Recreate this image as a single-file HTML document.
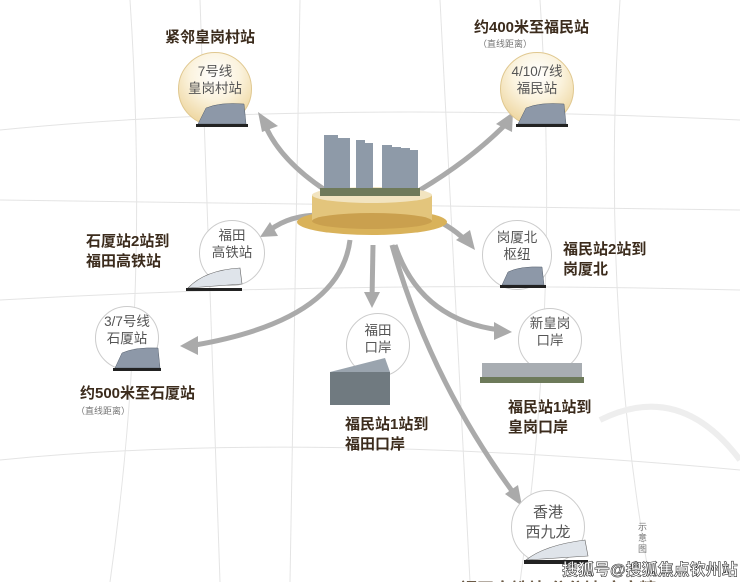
<!DOCTYPE html>
<html style="height:582px;overflow:hidden"><head><meta charset="utf-8"><style>
html,body{margin:0;width:740px;height:582px;overflow:hidden}
body{background:#fff;font-family:"Liberation Sans","Noto Sans CJK SC",sans-serif;position:relative}
.t{position:absolute;color:#3b2b1c;font-weight:bold;font-size:15px;line-height:20px;white-space:nowrap}
.s{position:absolute;color:#777;font-size:9px;white-space:nowrap}
.c{position:absolute;border-radius:50%;border:1.5px solid #ccc;background:#fff;text-align:center;color:#555;font-size:13.5px;line-height:17px;box-sizing:border-box}
.g{background:radial-gradient(circle at 50% 30%,#fff 0%,#fbf3de 40%,#e8c983 100%);border:1px solid #e0c890}
</style></head><body>
<svg width="740" height="582" style="position:absolute;left:0;top:0">
<g stroke="#e4e4e4" fill="none" stroke-width="1">
<path d="M0 130 Q300 100 740 120"/><path d="M0 300 Q350 280 740 290"/><path d="M0 460 Q300 430 740 470"/>
<path d="M130 0 Q150 300 110 582"/><path d="M300 0 L290 582"/><path d="M440 0 L470 582"/><path d="M620 0 Q600 300 650 582"/>
<path d="M0 200 L740 210"/><path d="M200 0 L220 582"/><path d="M540 0 Q560 300 520 582"/>
<path d="M600 420 Q680 380 740 460" stroke-width="6" stroke="#eee"/>
</g>
<g stroke="#aaa" fill="none" stroke-width="5">
<path d="M325 190 Q280 160 265 125"/><path d="M420 190 Q470 160 505 125"/>
<path d="M320 215 Q290 215 270 230"/><path d="M425 215 Q450 225 465 240"/>
<path d="M350 240 Q340 320 195 345"/><path d="M373 245 L372 300"/>
<path d="M395 245 Q420 320 500 330"/><path d="M392 245 Q430 380 515 495"/>
</g>
<g fill="#aaa">
<polygon points="258,112 278,126 262,132"/><polygon points="513,112 496,124 512,132"/>
<polygon points="260,237 270,222 278,236"/><polygon points="475,250 456,240 470,230"/>
<polygon points="180,346 198,336 198,355"/><polygon points="372,308 364,292 380,292"/>
<polygon points="512,332 494,322 494,340"/><polygon points="522,506 505,494 518,485"/>
</g>
<ellipse cx="372" cy="222" rx="75" ry="13" fill="#d9b25a"/>
<rect x="312" y="195" width="120" height="26" fill="#e3c57c"/>
<ellipse cx="372" cy="221" rx="60" ry="8" fill="#caa04e"/>
<ellipse cx="372" cy="195" rx="60" ry="8" fill="#f2e4c0"/>
<g fill="#8e9aa8"><rect x="324" y="135" width="14" height="58"/><rect x="338" y="138" width="12" height="55"/><rect x="356" y="140" width="9" height="52"/><rect x="365" y="143" width="8" height="50"/><rect x="382" y="145" width="10" height="48"/><rect x="392" y="147" width="9" height="46"/><rect x="400" y="148" width="10" height="45"/><rect x="410" y="150" width="8" height="43"/></g>
<rect x="320" y="188" width="100" height="8" fill="#6f7a5a"/>
</svg>
<div class="t" style="left:165px;top:28px">紧邻皇岗村站</div>
<div class="c g" style="left:178px;top:52px;width:74px;height:74px;padding-top:10px">7号线<br>皇岗村站</div>
<div class="t" style="left:474px;top:18px">约400米至福民站</div>
<div class="s" style="left:478px;top:37px">（直线距离）</div>
<div class="c g" style="left:500px;top:52px;width:74px;height:74px;padding-top:10px">4/10/7线<br>福民站</div>
<div class="c" style="left:199px;top:220px;width:66px;height:66px;padding-top:6px">福田<br>高铁站</div>
<div class="t" style="left:86px;top:232px">石厦站2站到<br>福田高铁站</div>
<div class="c" style="left:482px;top:220px;width:70px;height:70px;padding-top:8px">岗厦北<br>枢纽</div>
<div class="t" style="left:563px;top:240px">福民站2站到<br>岗厦北</div>
<div class="c" style="left:95px;top:306px;width:64px;height:64px;padding-top:6px">3/7号线<br>石厦站</div>
<div class="t" style="left:80px;top:384px">约500米至石厦站</div>
<div class="s" style="left:76px;top:404px">（直线距离）</div>
<div class="c" style="left:346px;top:313px;width:64px;height:64px;padding-top:8px">福田<br>口岸</div>
<div class="t" style="left:345px;top:415px">福民站1站到<br>福田口岸</div>
<div class="c" style="left:518px;top:308px;width:64px;height:64px;padding-top:6px">新皇岗<br>口岸</div>
<div class="t" style="left:508px;top:398px">福民站1站到<br>皇岗口岸</div>
<div class="c" style="left:511px;top:490px;width:74px;height:74px;padding-top:12px;font-size:15px;line-height:20px">香港<br>西九龙</div>
<div class="s" style="left:638px;top:522px;width:10px;line-height:11px;font-size:9px;white-space:normal">示意图</div>
<svg width="740" height="582" style="position:absolute;left:0;top:0">
<g fill="#8d98a8" stroke="#555f6c" stroke-width="0.5">
<path d="M198 124 L206 108 Q220 102 244 104 L246 124 Z"/><path d="M518 124 L526 108 Q540 102 564 104 L566 124 Z"/>
<path d="M502 285 L508 272 Q520 266 542 267 L544 285 Z"/><path d="M115 368 L122 353 Q135 347 158 348 L160 368 Z"/>
</g>
<g fill="#222"><rect x="196" y="124" width="52" height="3"/><rect x="516" y="124" width="52" height="3"/><rect x="500" y="285" width="46" height="3"/><rect x="113" y="368" width="48" height="3"/></g>
<g fill="#dfe4ea" stroke="#666" stroke-width="0.6">
<path d="M188 288 Q205 270 240 268 L242 284 Z"/><path d="M526 560 Q545 545 585 540 L588 556 Z"/>
</g>
<g fill="#222"><rect x="186" y="288" width="56" height="3"/><rect x="524" y="560" width="64" height="4"/></g>
<rect x="330" y="372" width="60" height="33" fill="#707a80"/><polygon points="330,372 385,358 390,372" fill="#9aa4ae"/>
<rect x="482" y="363" width="100" height="14" fill="#a8adb2"/><rect x="480" y="377" width="104" height="6" fill="#6d7a5a"/>
</svg>
<div style="position:absolute;left:460px;top:575px;font-size:17px;color:#6b5a45;white-space:nowrap;font-weight:bold">福田高铁站 分分钟 高定精工</div>
<div style="position:absolute;left:562px;top:556px;font-size:16px;font-weight:bold;color:#fff;-webkit-text-stroke:0.6px #333;white-space:nowrap">搜狐号@搜狐焦点钦州站</div>
</body></html>
